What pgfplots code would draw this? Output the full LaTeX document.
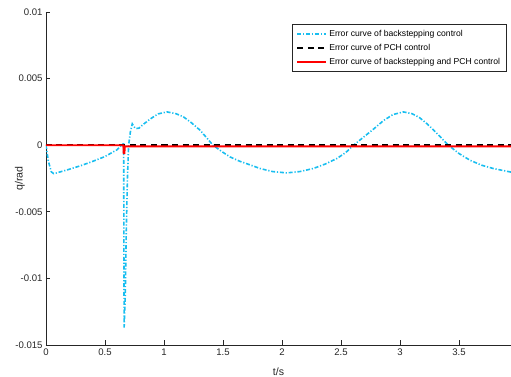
\documentclass[border=0pt]{standalone}
\usepackage{fontspec}
\setmainfont{Liberation Sans}
\usepackage{pgfplots}
\pgfplotsset{compat=1.18}
\definecolor{bsblue}{RGB}{25,190,240}
\definecolor{axgray}{RGB}{38,38,38}
\begin{document}
\begin{tikzpicture}
\begin{axis}[name=ax, scale only axis, width=465bp, height=333bp,
  xmin=0, xmax=3.94, ymin=-0.015, ymax=0.01,
  axis x line*=bottom, axis y line*=left,
  axis line style={-, axgray, line width=0.6bp},
  tick align=inside, major tick length=4.5bp,
  tick style={axgray, line width=0.6bp},
  xtick={0,0.5,1,1.5,2,2.5,3,3.5},
  xticklabels={0,0.5,1,1.5,2,2.5,3,3.5},
  ytick={-0.015,-0.01,-0.005,0,0.005,0.01},
  yticklabels={-0.015,-0.01,-0.005,0,0.005,0.01},
  scaled y ticks=false, scaled x ticks=false,
  ticklabel style={font=\fontsize{9.6}{11}\selectfont, text=axgray},
  xlabel={t/s}, ylabel={q/rad},
  label style={font=\fontsize{10.6}{12}\selectfont, text=axgray},
  xlabel style={at={(axis description cs:0.5,-0.081)}, anchor=center},
  ylabel style={at={(axis description cs:-0.056,0.5)}, anchor=center},
  legend cell align=left,
  legend style={at={(rel axis cs:0.991,0.964)}, anchor=north east,
    font=\fontsize{8.64}{10}\selectfont, draw=axgray, line width=0.5bp,
    inner xsep=4.5bp, inner ysep=2.5bp,
    nodes={text height=6.5bp, text depth=2bp, inner ysep=2.8bp, inner xsep=2bp}},
  legend image code/.code={\draw[#1] (0bp,0bp) -- (29bp,0bp);},
]
\addplot[bsblue, line width=1.6bp, dash pattern=on 4bp off 1.8bp on 1.2bp off 1.8bp] coordinates {
(0,0) (0.02,-0.0012) (0.045,-0.0020) (0.065,-0.00213) (0.09,-0.00208)
(0.2,-0.00180) (0.3,-0.00152) (0.4,-0.00120) (0.5,-0.00085) (0.6,-0.00035)
(0.653,0.00010) (0.658,0.0001) (0.662,-0.0137) (0.672,-0.0112) (0.68,-0.0065)
(0.69,-0.0025) (0.70,0.0000) (0.715,0.0010) (0.731,0.00160) (0.745,0.00140)
(0.76,0.00125) (0.788,0.00128) (0.83,0.00160) (0.88,0.00195) (0.95,0.00235)
(1.025,0.0025) (1.10,0.00237) (1.164,0.00213) (1.23,0.00170) (1.305,0.00113)
(1.36,0.00057) (1.415,0) (1.49,-0.00048) (1.559,-0.00088) (1.64,-0.00120)
(1.714,-0.00143) (1.814,-0.00175) (1.92,-0.00198) (2.04,-0.00208) (2.15,-0.00198)
(2.265,-0.00175) (2.37,-0.00140) (2.464,-0.00100) (2.54,-0.00055) (2.606,0)
(2.69,0.00060) (2.774,0.00120) (2.86,0.00185) (2.94,0.00230) (3.028,0.0025)
(3.10,0.00237) (3.16,0.00210) (3.226,0.00163) (3.30,0.00100) (3.36,0.00045)
(3.409,0) (3.50,-0.00063) (3.593,-0.00113) (3.69,-0.00150) (3.79,-0.00175)
(3.94,-0.00202)
};
\addlegendentry{Error curve of backstepping control}
\addplot[black, line width=1.6bp, dash pattern=on 6bp off 4.5bp] coordinates {
(0,0.00001) (3.94,0.00001)
};
\addlegendentry{Error curve of PCH control}
\addplot[red, line width=1.8bp] coordinates {
(0,-0.00001) (0.655,-0.00001) (0.658,-0.0006) (0.665,-0.0006) (0.668,-0.00009) (3.94,-0.00009)
};
\addlegendentry{Error curve of backstepping and PCH control}
\end{axis}
\pgfresetboundingbox
\path ([shift={(-46bp,-32bp)}]ax.south west) rectangle ([shift={(0bp,12bp)}]ax.north east);
\end{tikzpicture}
\end{document}
